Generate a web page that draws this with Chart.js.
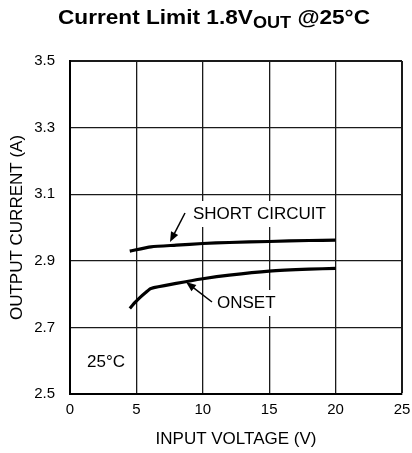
<!DOCTYPE html>
<html>
<head>
<meta charset="utf-8">
<script src="https://cdn.jsdelivr.net/npm/chart.js@4/dist/chart.umd.min.js"></script>
<style>
  html, body { margin: 0; padding: 0; background: #fff; }
  #chart { display: block; }
</style>
</head>
<body>
<canvas id="chart" width="412" height="453"></canvas>
<script>
// ── Data ─────────────────────────────────────────────────────
const shortVin     = [4.5, 6.1, 8, 10, 12, 15, 18, 20];
const shortCurrent = [2.929, 2.942, 2.947, 2.952, 2.955, 2.958, 2.961, 2.962];

const onsetVin     = [4.5, 4.9, 5.3, 5.7, 6.1, 8, 10, 12, 15, 18, 20];
const onsetCurrent = [2.757, 2.775, 2.791, 2.805, 2.817, 2.832, 2.846, 2.857, 2.869, 2.875, 2.877];

const xTicks = [0, 5, 10, 15, 20, 25];
const yTicks = [2.5, 2.7, 2.9, 3.1, 3.3, 3.5];

const FONT = '"Liberation Sans", Arial, sans-serif';

const toPoints = (xs, ys) => xs.map((x, i) => ({ x, y: ys[i] }));

// ── Title with subscript, in-plot labels and arrows ─────────
const decorations = {
  id: 'decorations',
  afterDatasetsDraw(chart) {
    const { ctx } = chart;
    ctx.save();

    // title, stretched a little to the reference's width
    const parts = [
      { t: 'Current Limit 1.8V', f: `bold 20px ${FONT}`, dy: 0 },
      { t: 'OUT', f: `bold 16px ${FONT}`, dy: 4 },
      { t: ' @25°C', f: `bold 20px ${FONT}`, dy: 0 },
    ];
    let total = 0;
    parts.forEach(p => { ctx.font = p.f; p.w = ctx.measureText(p.t).width; total += p.w; });
    const sx = 312 / total;
    ctx.save();
    ctx.translate(214 - 156, 0);
    ctx.scale(sx, 1);
    ctx.fillStyle = '#000';
    ctx.textBaseline = 'alphabetic';
    let tx = 0;
    parts.forEach(p => { ctx.font = p.f; ctx.fillText(p.t, tx, 24 + p.dy); tx += p.w; });
    ctx.restore();

    // labels with white backing (they break the grid)
    const label = (text, px, py, size) => {
      ctx.font = `${size}px ${FONT}`;
      const w = ctx.measureText(text).width;
      ctx.fillStyle = '#fff';
      ctx.fillRect(px - 6, py - 13, w + 12, 26);
      ctx.fillStyle = '#000';
      ctx.textAlign = 'left';
      ctx.textBaseline = 'middle';
      ctx.fillText(text, px, py);
    };
    label('SHORT CIRCUIT', 193, 214, 17);
    label('ONSET', 217, 303, 17);
    label('25°C', 87, 362, 17);

    // arrows
    const arrow = (x0, y0, x1, y1) => {
      const a = Math.atan2(y1 - y0, x1 - x0), L = 10, W = 4;
      ctx.strokeStyle = '#000';
      ctx.lineWidth = 1.5;
      ctx.beginPath();
      ctx.moveTo(x0, y0);
      ctx.lineTo(x1 - Math.cos(a) * L * 0.8, y1 - Math.sin(a) * L * 0.8);
      ctx.stroke();
      ctx.beginPath();
      ctx.moveTo(x1, y1);
      ctx.lineTo(x1 - L * Math.cos(a) + W * Math.sin(a), y1 - L * Math.sin(a) - W * Math.cos(a));
      ctx.lineTo(x1 - L * Math.cos(a) - W * Math.sin(a), y1 - L * Math.sin(a) + W * Math.cos(a));
      ctx.closePath();
      ctx.fillStyle = '#000';
      ctx.fill();
    };
    arrow(185, 213, 170, 242);
    arrow(212, 302, 186, 282);

    ctx.restore();
  },
};

new Chart(document.getElementById('chart'), {
  type: 'line',
  data: {
    datasets: [
      {
        label: 'Short circuit',
        data: toPoints(shortVin, shortCurrent),
        borderColor: '#000',
        borderWidth: 3.2,
        pointRadius: 0,
        tension: 0.2,
      },
      {
        label: 'Onset',
        data: toPoints(onsetVin, onsetCurrent),
        borderColor: '#000',
        borderWidth: 3.2,
        pointRadius: 0,
        tension: 0.2,
      },
    ],
  },
  options: {
    responsive: false,
    animation: false,
    events: [],
    layout: { padding: { top: 61, right: 10, left: 0, bottom: 0 } },
    plugins: { legend: { display: false }, tooltip: { enabled: false }, title: { display: false } },
    scales: {
      x: {
        type: 'linear',
        min: 0, max: 25,
        afterBuildTicks: s => { s.ticks = xTicks.map(v => ({ value: v })); },
        afterFit: s => { s.height = 59; s.paddingRight = 0; s.paddingLeft = 0; },
        grid: {
          color: '#1a1a1a',
          lineWidth: c => (c.tick && c.tick.value === 25 ? 2 : 1.3),
          drawTicks: false,
        },
        border: { display: true, color: '#000', width: 2 },
        ticks: { color: '#000', padding: 7, font: { family: FONT, size: 15 } },
        title: {
          display: true, text: 'INPUT VOLTAGE (V)', color: '#000',
          font: { family: FONT, size: 17 }, padding: { top: 0, bottom: 3 },
        },
      },
      y: {
        type: 'linear',
        min: 2.5, max: 3.5,
        afterBuildTicks: s => { s.ticks = yTicks.map(v => ({ value: v })); },
        afterFit: s => { s.width = 70; },
        grid: {
          color: '#1a1a1a',
          lineWidth: c => (c.tick && c.tick.value === 3.5 ? 2 : 1.3),
          drawTicks: false,
        },
        border: { display: true, color: '#000', width: 2 },
        ticks: {
          color: '#000', padding: 15, font: { family: FONT, size: 15 },
          callback: v => v.toFixed(1),
        },
        title: {
          display: true, text: 'OUTPUT CURRENT (A)', color: '#000',
          font: { family: FONT, size: 17 }, padding: { top: 7, bottom: 0 },
        },
      },
    },
  },
  plugins: [decorations],
});
</script>
</body>
</html>
